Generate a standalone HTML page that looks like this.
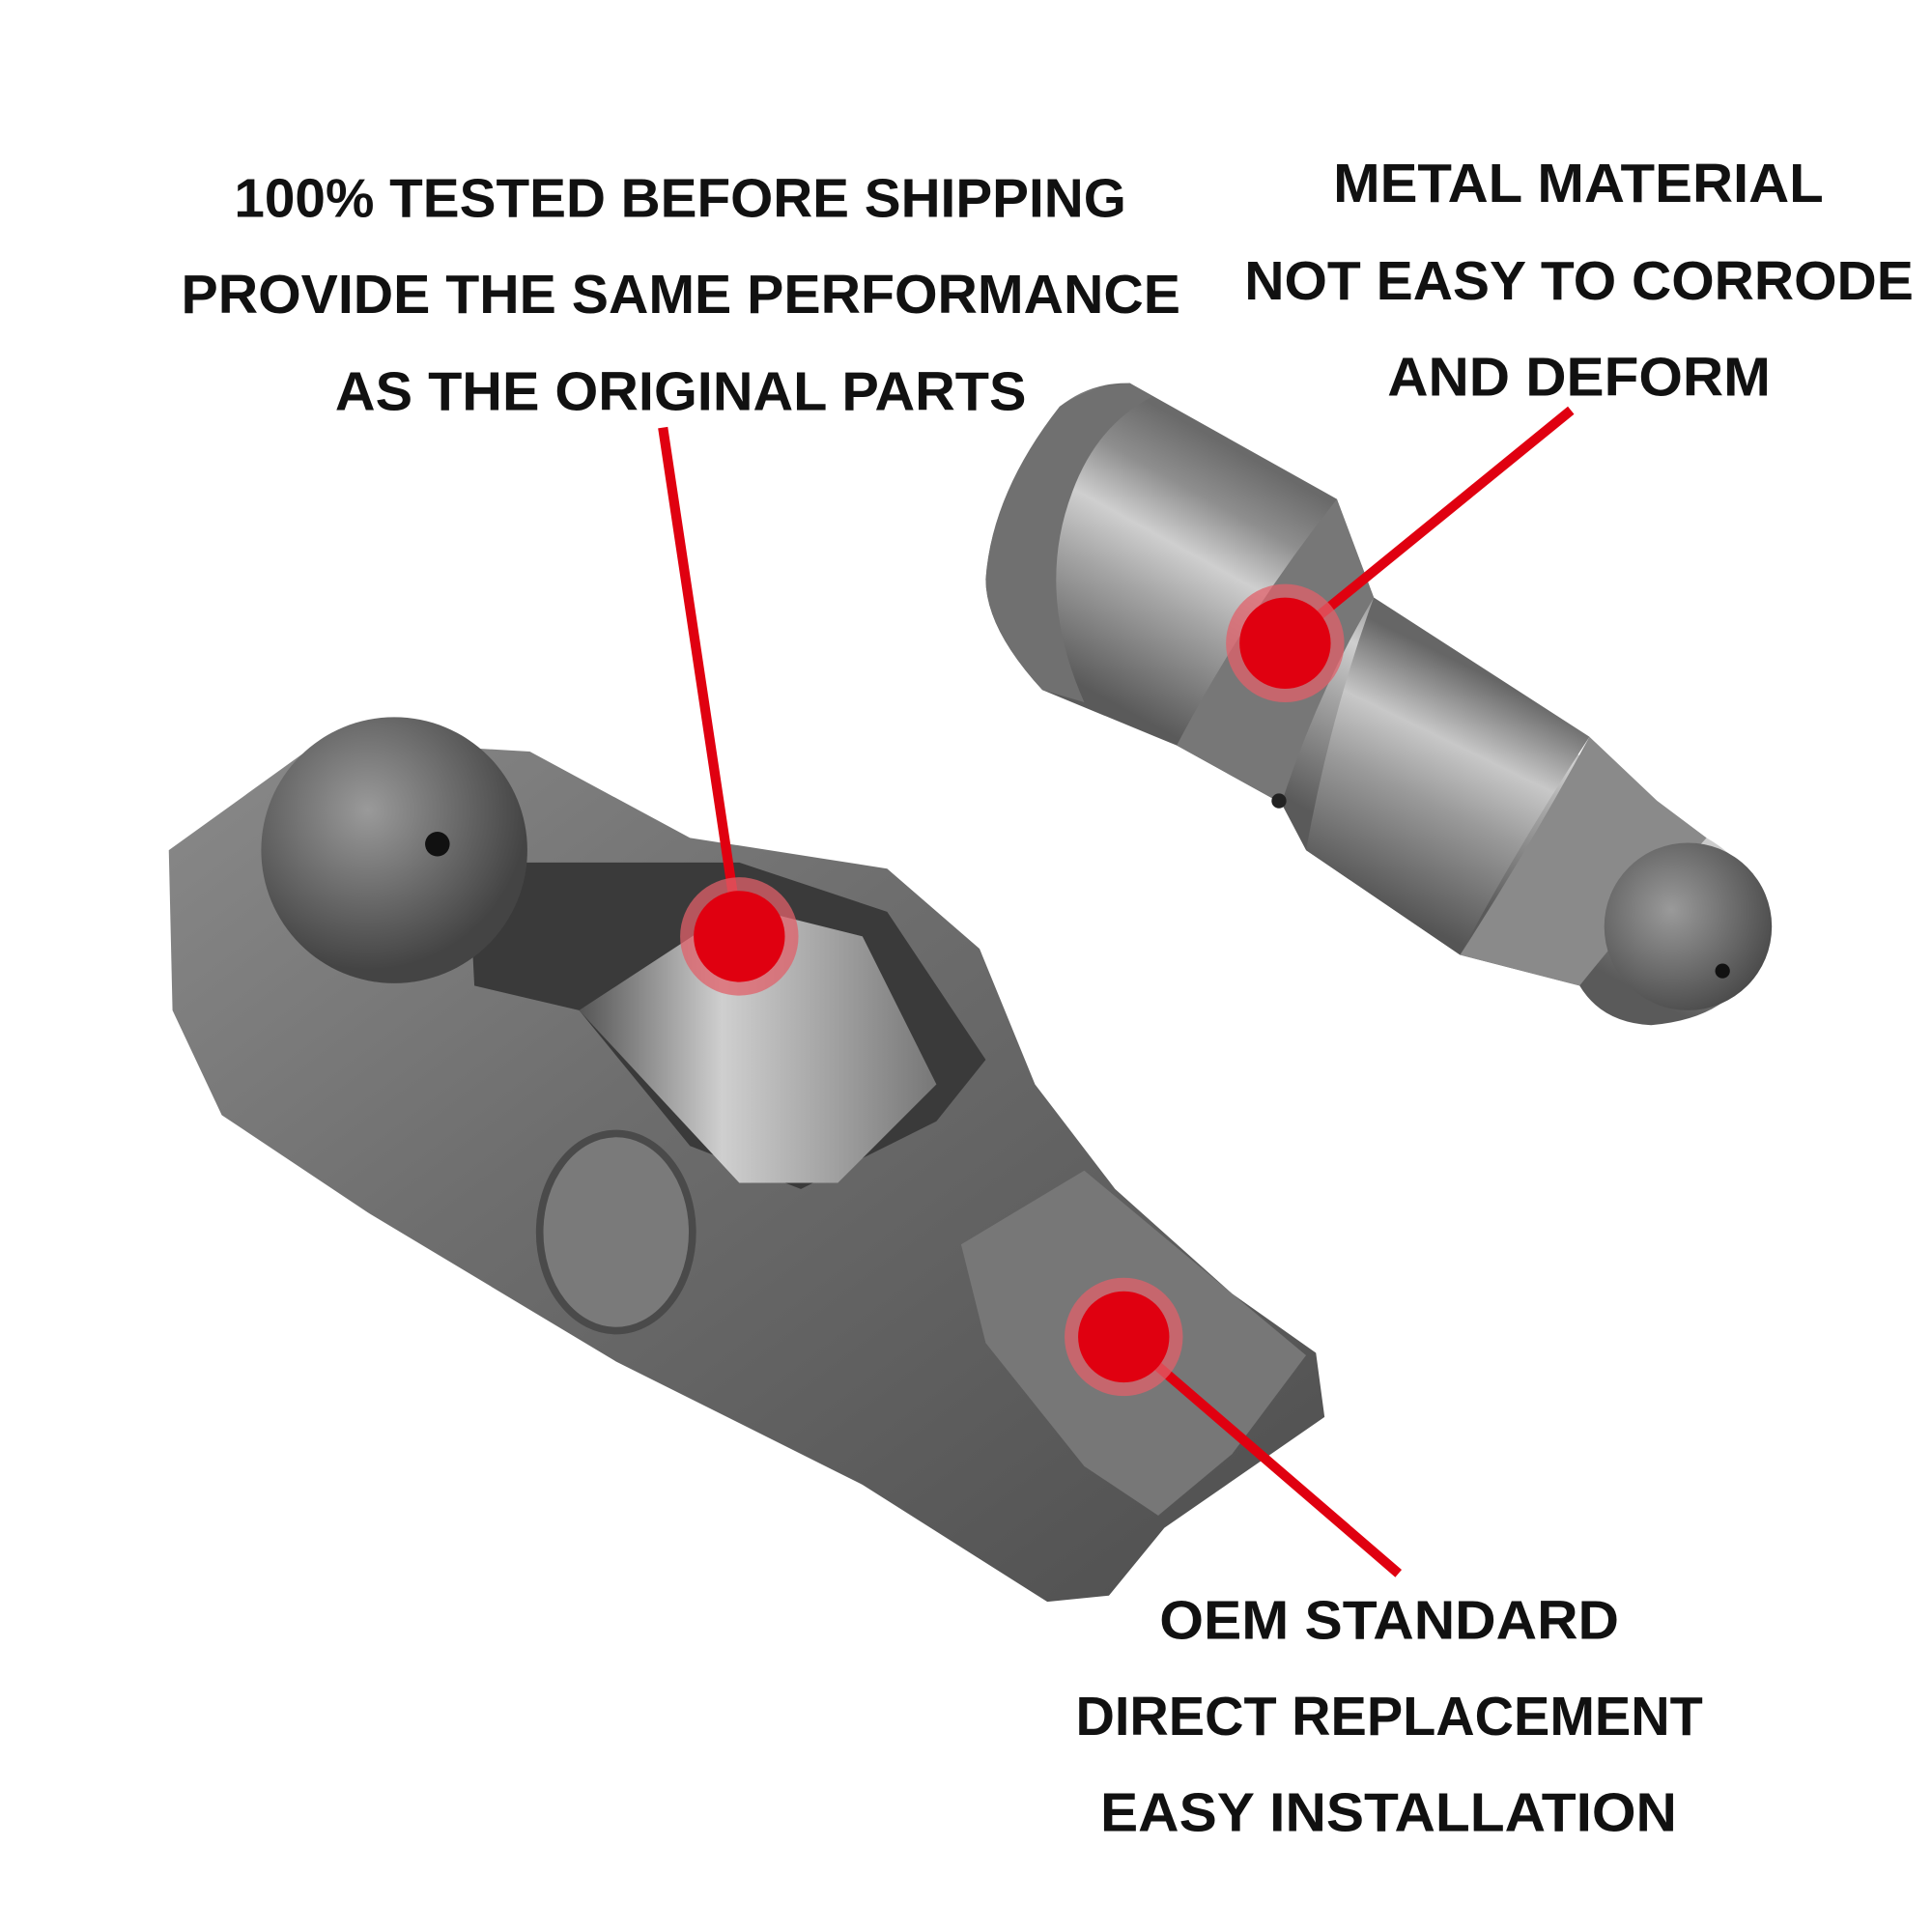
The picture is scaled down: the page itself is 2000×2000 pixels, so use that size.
<!DOCTYPE html>
<html><head><meta charset="utf-8"><style>
html,body{margin:0;padding:0;background:#fff;}
svg{display:block;}
text{font-family:"Liberation Sans",sans-serif;font-weight:bold;fill:#111;font-size:44px;}
</style></head><body>
<svg width="2000" height="2000" viewBox="0 0 1568 1568" xmlns="http://www.w3.org/2000/svg">
<defs>
<linearGradient id="g1" x1="0" y1="0" x2="1" y2="1">
<stop offset="0" stop-color="#8a8a8a"/><stop offset="0.4" stop-color="#6e6e6e"/><stop offset="1" stop-color="#4e4e4e"/></linearGradient>
<linearGradient id="cyl" gradientUnits="userSpaceOnUse" x1="1030" y1="380" x2="920" y2="580">
<stop offset="0" stop-color="#6a6a6a"/><stop offset="0.2" stop-color="#8e8e8e"/><stop offset="0.4" stop-color="#cfcfcf"/><stop offset="0.6" stop-color="#a5a5a5"/><stop offset="1" stop-color="#5a5a5a"/></linearGradient>
<linearGradient id="cyl2" gradientUnits="userSpaceOnUse" x1="1200" y1="545" x2="1110" y2="730">
<stop offset="0" stop-color="#666"/><stop offset="0.3" stop-color="#c8c8c8"/><stop offset="0.55" stop-color="#9a9a9a"/><stop offset="1" stop-color="#555"/></linearGradient>
<linearGradient id="rol" x1="0" y1="0" x2="1" y2="0">
<stop offset="0" stop-color="#555"/><stop offset="0.4" stop-color="#cfcfcf"/><stop offset="1" stop-color="#777"/></linearGradient>
<radialGradient id="dome" cx="0.4" cy="0.35" r="0.6"><stop offset="0" stop-color="#9a9a9a"/><stop offset="1" stop-color="#444"/></radialGradient>
<radialGradient id="tip" cx="0.4" cy="0.4" r="0.7"><stop offset="0" stop-color="#9a9a9a"/><stop offset="1" stop-color="#444"/></radialGradient>
</defs>

<!-- lifter silhouette -->
<path d="M917,311 L1085,405 L1115,485 L1290,598 L1280,612 L1345,650 L1385,680 Q1430,705 1428,760 Q1420,825 1340,832 Q1300,830 1282,800 L1185,775 L1060,690 L1040,652 L955,605 L846,560 Q800,510 800,470 Q805,400 860,330 Q885,310 917,311 Z" fill="url(#cyl)"/>
<!-- end face band -->
<path d="M917,311 Q880,315 860,330 Q805,400 800,470 Q800,510 846,560 L880,570 Q840,480 870,400 Q890,345 935,322 Z" fill="#707070"/>
<!-- neck band -->
<path d="M1085,405 L1115,485 Q1070,560 1040,652 L955,605 Q1010,500 1085,405 Z" fill="#777"/>
<!-- second cylinder -->
<path d="M1115,485 L1290,598 Q1230,690 1185,775 L1060,690 Q1080,580 1115,485 Z" fill="url(#cyl2)"/>
<!-- stem -->
<path d="M1290,598 L1345,650 L1385,680 Q1330,740 1282,800 L1185,775 Q1240,690 1290,598 Z" fill="#8a8a8a"/>
<circle cx="1370" cy="752" r="68" fill="url(#tip)"/>
<circle cx="1398" cy="788" r="6" fill="#111"/>
<circle cx="1038" cy="650" r="6" fill="#222"/>

<!-- rocker arm -->
<path d="M137,690 L262,600 L430,610 L560,680 L720,705 L795,770 L840,880 L905,965 L1000,1050 L1068,1098 L1075,1150 L1010,1195 L945,1240 L900,1295 L850,1300 L700,1205 L500,1105 L300,985 L180,905 L140,820 Z" fill="url(#g1)"/>
<path d="M380,700 L600,700 L720,740 L800,860 L760,910 L650,965 L560,930 L470,820 L385,800 Z" fill="#3a3a3a"/>
<path d="M470,820 L600,735 L700,760 L760,880 L680,960 L600,960 Z" fill="url(#rol)"/>
<circle cx="320" cy="690" r="108" fill="url(#dome)"/>
<circle cx="355" cy="685" r="10" fill="#111"/>
<ellipse cx="500" cy="1000" rx="62" ry="80" fill="#7a7a7a" stroke="#4a4a4a" stroke-width="6"/>
<path d="M780,1010 L880,950 L1000,1050 L1060,1100 L1000,1180 L940,1230 L880,1190 L800,1090 Z" fill="#777"/>

<!-- red connectors -->
<g stroke="#e00010" stroke-width="8">
<line x1="538" y1="347" x2="600" y2="760"/>
<line x1="1275" y1="333" x2="1043" y2="522"/>
<line x1="912" y1="1085" x2="1135" y2="1277"/>
</g>
<circle cx="600" cy="760" r="48" fill="#e0606a" opacity="0.75"/><circle cx="600" cy="760" r="37" fill="#e00010"/>
<circle cx="1043" cy="522" r="48" fill="#e0606a" opacity="0.75"/><circle cx="1043" cy="522" r="37" fill="#e00010"/>
<circle cx="912" cy="1085" r="48" fill="#e0606a" opacity="0.75"/><circle cx="912" cy="1085" r="37" fill="#e00010"/>

<!-- text -->
<text x="190" y="176" textLength="724" lengthAdjust="spacingAndGlyphs">100% TESTED BEFORE SHIPPING</text>
<text x="147" y="254" textLength="811" lengthAdjust="spacingAndGlyphs">PROVIDE THE SAME PERFORMANCE</text>
<text x="272" y="333" textLength="561" lengthAdjust="spacingAndGlyphs">AS THE ORIGINAL PARTS</text>
<text x="1082" y="164" textLength="398" lengthAdjust="spacingAndGlyphs">METAL MATERIAL</text>
<text x="1010" y="243" textLength="543" lengthAdjust="spacingAndGlyphs">NOT EASY TO CORRODE</text>
<text x="1126" y="321" textLength="311" lengthAdjust="spacingAndGlyphs">AND DEFORM</text>
<text x="941" y="1330" textLength="373" lengthAdjust="spacingAndGlyphs">OEM STANDARD</text>
<text x="873" y="1408" textLength="509" lengthAdjust="spacingAndGlyphs">DIRECT REPLACEMENT</text>
<text x="893" y="1486" textLength="468" lengthAdjust="spacingAndGlyphs">EASY INSTALLATION</text>
</svg>
</body></html>
